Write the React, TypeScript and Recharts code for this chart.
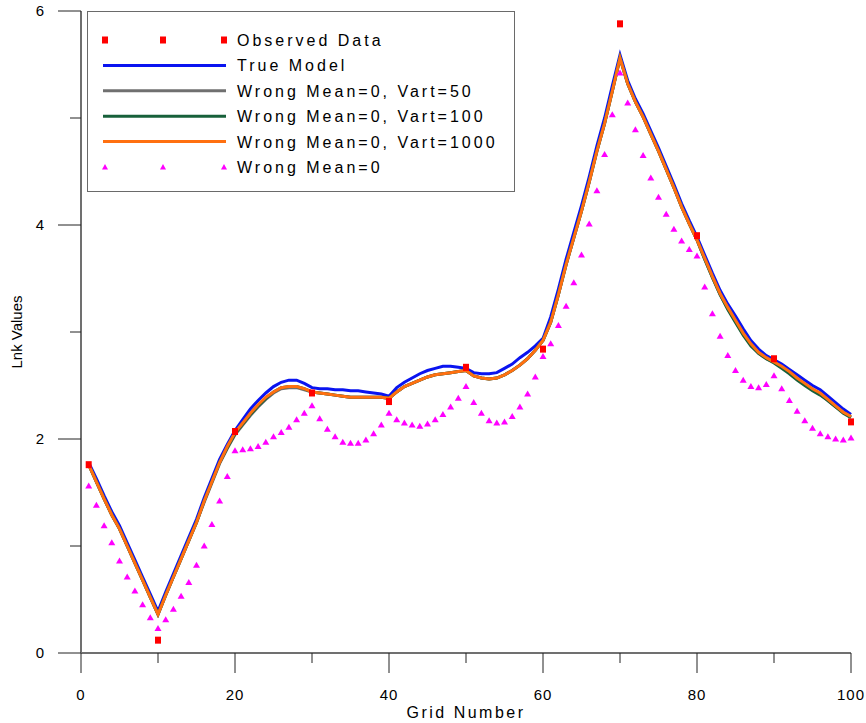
import React from 'react';
import { ComposedChart, Line, Scatter, XAxis, YAxis, Legend } from 'recharts';

const gridNumbers = Array.from({ length: 100 }, (_, i) => i + 1);

const trueModel = [
  1.78, 1.63, 1.47, 1.32, 1.19, 1.03, 0.87, 0.71, 0.55, 0.39,
  0.57, 0.74, 0.91, 1.08, 1.25, 1.45, 1.63, 1.81, 1.95, 2.08,
  2.18, 2.28, 2.36, 2.43, 2.49, 2.53, 2.55, 2.55, 2.52, 2.48,
  2.47, 2.47, 2.46, 2.46, 2.45, 2.45, 2.44, 2.43, 2.42, 2.40,
  2.48, 2.53, 2.57, 2.61, 2.64, 2.66, 2.68, 2.68, 2.67, 2.66,
  2.62, 2.61, 2.61, 2.62, 2.66, 2.70, 2.76, 2.81, 2.87, 2.94,
  3.14, 3.40, 3.68, 3.93, 4.18, 4.45, 4.74, 5.00, 5.30, 5.59,
  5.35, 5.18, 5.04, 4.88, 4.72, 4.55, 4.38, 4.20, 4.04, 3.89,
  3.72, 3.55, 3.39, 3.26, 3.15, 3.03, 2.92, 2.84, 2.78, 2.74,
  2.70, 2.65, 2.60, 2.55, 2.50, 2.46, 2.40, 2.34, 2.28, 2.23,
];

const vart50 = [
  1.76, 1.60, 1.44, 1.29, 1.16, 1.00, 0.84, 0.68, 0.52, 0.36,
  0.54, 0.71, 0.88, 1.05, 1.22, 1.41, 1.59, 1.77, 1.91, 2.04,
  2.13, 2.22, 2.30, 2.37, 2.43, 2.47, 2.48, 2.48, 2.46, 2.44,
  2.43, 2.42, 2.41, 2.40, 2.39, 2.39, 2.39, 2.39, 2.39, 2.38,
  2.44, 2.49, 2.52, 2.55, 2.58, 2.60, 2.61, 2.62, 2.63, 2.64,
  2.59, 2.57, 2.56, 2.57, 2.60, 2.64, 2.69, 2.75, 2.83, 2.92,
  3.09, 3.35, 3.63, 3.88, 4.13, 4.40, 4.69, 4.95, 5.25, 5.56,
  5.32, 5.15, 5.01, 4.85, 4.69, 4.52, 4.35, 4.17, 4.01, 3.86,
  3.68, 3.51, 3.35, 3.22, 3.10, 2.98, 2.88, 2.80, 2.75, 2.72,
  2.67, 2.62, 2.56, 2.51, 2.46, 2.42, 2.36, 2.30, 2.25, 2.21,
];

const vart100 = [
  1.76, 1.60, 1.44, 1.29, 1.16, 1.00, 0.84, 0.68, 0.52, 0.36,
  0.54, 0.71, 0.88, 1.05, 1.22, 1.42, 1.60, 1.78, 1.92, 2.05,
  2.14, 2.23, 2.31, 2.38, 2.44, 2.48, 2.49, 2.49, 2.47, 2.44,
  2.43, 2.42, 2.41, 2.40, 2.39, 2.39, 2.39, 2.39, 2.39, 2.38,
  2.44, 2.49, 2.52, 2.55, 2.58, 2.60, 2.61, 2.62, 2.63, 2.64,
  2.59, 2.57, 2.56, 2.57, 2.60, 2.64, 2.69, 2.75, 2.83, 2.92,
  3.09, 3.35, 3.63, 3.88, 4.13, 4.40, 4.69, 4.95, 5.25, 5.56,
  5.32, 5.15, 5.01, 4.85, 4.69, 4.52, 4.35, 4.17, 4.01, 3.86,
  3.68, 3.51, 3.35, 3.21, 3.09, 2.97, 2.87, 2.80, 2.75, 2.71,
  2.66, 2.61, 2.55, 2.50, 2.45, 2.41, 2.36, 2.30, 2.24, 2.20,
];

const vart1000 = [
  1.76, 1.60, 1.44, 1.29, 1.16, 1.00, 0.84, 0.68, 0.52, 0.36,
  0.54, 0.71, 0.88, 1.05, 1.22, 1.42, 1.60, 1.78, 1.93, 2.06,
  2.15, 2.24, 2.32, 2.39, 2.44, 2.48, 2.49, 2.49, 2.47, 2.44,
  2.43, 2.42, 2.41, 2.40, 2.39, 2.39, 2.39, 2.39, 2.39, 2.38,
  2.44, 2.49, 2.52, 2.55, 2.58, 2.60, 2.61, 2.62, 2.63, 2.64,
  2.59, 2.57, 2.56, 2.57, 2.60, 2.64, 2.69, 2.75, 2.83, 2.92,
  3.09, 3.35, 3.63, 3.88, 4.13, 4.40, 4.69, 4.95, 5.25, 5.56,
  5.32, 5.15, 5.01, 4.85, 4.69, 4.52, 4.35, 4.17, 4.01, 3.86,
  3.69, 3.52, 3.36, 3.23, 3.11, 2.99, 2.89, 2.81, 2.76, 2.72,
  2.68, 2.63, 2.57, 2.52, 2.47, 2.43, 2.37, 2.31, 2.25, 2.21,
];

const wrongMean = [
  1.56, 1.38, 1.19, 1.03, 0.86, 0.71, 0.58, 0.45, 0.33, 0.23,
  0.31, 0.41, 0.53, 0.66, 0.82, 1.00, 1.20, 1.42, 1.65, 1.89,
  1.90, 1.91, 1.93, 1.97, 2.02, 2.06, 2.11, 2.18, 2.24, 2.31,
  2.19, 2.09, 2.02, 1.97, 1.96, 1.96, 1.99, 2.05, 2.13, 2.24,
  2.18, 2.15, 2.13, 2.12, 2.14, 2.18, 2.23, 2.30, 2.38, 2.49,
  2.34, 2.24, 2.17, 2.15, 2.16, 2.21, 2.30, 2.42, 2.58, 2.77,
  2.89, 3.06, 3.24, 3.46, 3.72, 4.01, 4.32, 4.66, 5.03, 5.42,
  5.14, 4.89, 4.65, 4.44, 4.26, 4.10, 3.96, 3.85, 3.77, 3.71,
  3.42, 3.17, 2.96, 2.78, 2.64, 2.55, 2.49, 2.48, 2.51, 2.59,
  2.47, 2.36, 2.26, 2.17, 2.10, 2.05, 2.02, 2.00, 1.99, 2.01,
];

const observedX = [1, 10, 20, 30, 40, 50, 60, 70, 80, 90, 100];
const observedY = [1.76, 0.12, 2.07, 2.43, 2.35, 2.67, 2.84, 5.88, 3.90, 2.75, 2.16];

const xTicks = [0, 10, 20, 30, 40, 50, 60, 70, 80, 90, 100];
const yTicks = [0, 1, 2, 3, 4, 5, 6];

const legendItems = [
  { name: 'Observed Data', kind: 'square', color: '#ff0000' },
  { name: 'True Model', kind: 'line', color: '#0a14f0' },
  { name: 'Wrong Mean=0, Vart=50', kind: 'line', color: '#707070' },
  { name: 'Wrong Mean=0, Vart=100', kind: 'line', color: '#17603a' },
  { name: 'Wrong Mean=0, Vart=1000', kind: 'line', color: '#ff7010' },
  { name: 'Wrong Mean=0', kind: 'triangle', color: '#ff00ff' },
];

const chartData = gridNumbers.map((g, i) => ({
  x: g,
  tm: trueModel[i],
  v50: vart50[i],
  v100: vart100[i],
  v1000: vart1000[i],
  wm: wrongMean[i],
}));

const observedData = observedX.map((g, i) => ({ x: g, obs: observedY[i] }));

const FONT = '"Liberation Sans", Arial, sans-serif';

const XTick = (props: any) => {
  const { x, y, payload } = props;
  const major = payload.value % 20 === 0;
  return (
    <g>
      <line x1={x} x2={x} y1={y} y2={y + (major ? 20 : 10)} stroke="#222" strokeWidth={1} />
      {major && (
        <text x={x} y={y + 47} textAnchor="middle" fontFamily={FONT} fontSize={15} letterSpacing={1} fill="#000">
          {payload.value}
        </text>
      )}
    </g>
  );
};

const YTick = (props: any) => {
  const { x, y, payload } = props;
  const major = payload.value % 2 === 0;
  return (
    <g>
      <line x1={x - (major ? 23 : 11)} x2={x} y1={y} y2={y} stroke="#222" strokeWidth={1} />
      {major && (
        <text x={x - 37} y={y + 5} textAnchor="end" fontFamily={FONT} fontSize={15} fill="#000">
          {payload.value}
        </text>
      )}
    </g>
  );
};

const Square = (props: any) => {
  const { cx, cy } = props;
  if (cx == null || cy == null) return null;
  return <rect x={cx - 3} y={cy - 3.5} width={6} height={7} fill="#ff0000" />;
};

const Triangle = (props: any) => {
  const { cx, cy, index } = props;
  if (cx == null || cy == null) return <g key={index} />;
  return <polygon key={index} points={`${cx - 3.5},${cy + 2.5} ${cx + 3.5},${cy + 2.5} ${cx},${cy - 3.5}`} fill="#ff00ff" />;
};

const LegendBox = () => (
  <div style={{ width: 428, height: 181, border: '1px solid #6a6a6a', boxSizing: 'border-box', background: '#fff' }}>
    <svg width={426} height={179}>
      {legendItems.map((it, i) => {
        const cy = 28 + i * 25.4;
        return (
          <g key={it.name}>
            {it.kind === 'line' && <line x1={15} x2={138} y1={cy} y2={cy} stroke={it.color} strokeWidth={3} />}
            {it.kind === 'square' &&
              [17, 75, 136].map((mx) => <rect key={mx} x={mx - 3} y={cy - 3.5} width={6} height={7} fill={it.color} />)}
            {it.kind === 'triangle' &&
              [17, 75, 136].map((mx) => (
                <polygon key={mx} points={`${mx - 3},${cy + 2.5} ${mx + 3},${cy + 2.5} ${mx},${cy - 3}`} fill={it.color} />
              ))}
            <text x={149} y={cy + 6} fontFamily={FONT} fontSize={16} letterSpacing={3} fill="#000">
              {it.name}
            </text>
          </g>
        );
      })}
    </svg>
  </div>
);

export default function App() {
  return (
    <div style={{ position: 'absolute', left: 0, top: 0, width: 866, height: 723, background: '#fff' }}>
      <ComposedChart width={866} height={723} data={chartData} margin={{ top: 11, right: 15, left: 0, bottom: 0 }}>
        <XAxis
          dataKey="x"
          type="number"
          domain={[0, 100]}
          ticks={xTicks}
          height={70}
          tickSize={0}
          tickMargin={0}
          tickLine={false}
          tick={<XTick />}
          axisLine={{ stroke: '#707070', strokeWidth: 2 }}
          interval={0}
          label={{
            content: (p: any) => {
              const vb = p.viewBox;
              return (
                <text x={vb.x + vb.width / 2} y={vb.y + 65} textAnchor="middle" fontFamily={FONT} fontSize={16} letterSpacing={2.5} fill="#000">
                  Grid Number
                </text>
              );
            },
          }}
        />
        <YAxis
          type="number"
          domain={[0, 6]}
          ticks={yTicks}
          width={81}
          tickSize={0}
          tickMargin={0}
          tickLine={false}
          tick={<YTick />}
          axisLine={{ stroke: '#707070', strokeWidth: 2 }}
          interval={0}
          label={{
            content: (p: any) => {
              const vb = p.viewBox;
              const cx = vb.x + 22;
              const cy = vb.y + vb.height / 2;
              return (
                <text x={cx} y={cy} transform={`rotate(-90, ${cx}, ${cy})`} textAnchor="middle" fontFamily={FONT} fontSize={15} fill="#000">
                  Lnk Values
                </text>
              );
            },
          }}
        />
        <Legend
          layout="vertical"
          align="center"
          verticalAlign="middle"
          content={<LegendBox />}
          wrapperStyle={{ left: 87, top: 11, width: 428, height: 181 }}
        />
        <Line type="linear" dataKey="wm" stroke="none" dot={<Triangle />} activeDot={false} isAnimationActive={false} />
        <Line type="linear" dataKey="tm" stroke="#0a14f0" strokeWidth={3} dot={false} activeDot={false} isAnimationActive={false} />
        <Line type="linear" dataKey="v50" stroke="#707070" strokeWidth={3} dot={false} activeDot={false} isAnimationActive={false} />
        <Line type="linear" dataKey="v100" stroke="#17603a" strokeWidth={3} dot={false} activeDot={false} isAnimationActive={false} />
        <Line type="linear" dataKey="v1000" stroke="#ff7010" strokeWidth={3} dot={false} activeDot={false} isAnimationActive={false} />
        <Scatter data={observedData} dataKey="obs" shape={<Square />} isAnimationActive={false} />
      </ComposedChart>
    </div>
  );
}
